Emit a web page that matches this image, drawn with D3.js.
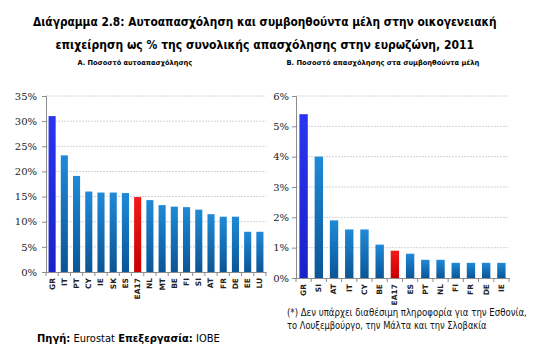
<!DOCTYPE html>
<html><head><meta charset="utf-8">
<script src="https://cdn.jsdelivr.net/npm/d3@7"></script>
<style>body{margin:0;background:#fff}svg{display:block}</style>
</head><body>
<script>
const catsA = ["GR","IT","PT","CY","IE","SK","ES","EA17","NL","MT","BE","FI","SI","AT","FR","DE","EE","LU"];
const valsA = [31,23.2,19.1,16,15.8,15.8,15.7,14.9,14.3,13.3,13,12.9,12.4,11.5,11,11,8,8];
const ticksA = [0,5,10,15,20,25,30,35];
const catsB = ["GR","SI","AT","IT","CY","BE","EA17","ES","PT","NL","FI","FR","DE","IE"];
const valsB = [5.4,4.0,1.9,1.6,1.6,1.1,0.9,0.8,0.6,0.6,0.5,0.5,0.5,0.5];
const ticksB = [0,1,2,3,4,5,6];
const title1 = "Διάγραμμα 2.8: Αυτοαπασχόληση και συμβοηθούντα μέλη στην οικογενειακή";
const title2 = "επιχείρηση ως % της συνολικής  απασχόλησης στην ευρωζώνη, 2011";
const subA = "A. Ποσοστό αυτοαπασχόλησης";
const subB = "B. Ποσοστό απασχόλησης στα συμβοηθούντα μέλη";
const note1 = "(*) Δεν υπάρχει διαθέσιμη πληροφορία για την Εσθονία,";
const note2 = "το Λουξεμβούργο, την Μάλτα και την Σλοβακία";

const W=541,H=361;
const svg=d3.select("body").append("svg").attr("width",W).attr("height",H);
const defs=svg.append("defs");
function grad(id,top,bot){
  const g=defs.append("linearGradient").attr("id",id).attr("x1",0).attr("y1",0).attr("x2",0).attr("y2",1);
  g.append("stop").attr("offset","0%").attr("stop-color",top);
  g.append("stop").attr("offset","100%").attr("stop-color",bot);
}
grad("gBlue","#1f8ad8","#0b5596");
grad("gGR","#2b35f0","#1a22c8");
grad("gRed","#f21a1a","#c80000");

const font="DejaVu Sans";
// place text at (x,y) with left edge x (anchor start), horizontally squeezed to width w
function fitText(x,y,w,size,weight,build,anchor){
  const g=svg.append("g");
  const t=g.append("text").attr("x",0).attr("y",0).attr("font-family",font)
    .attr("font-size",size).attr("font-weight",weight).attr("fill","#000");
  build(t);
  const len=t.node().getComputedTextLength();
  const s=w/len;
  const left = anchor==="middle" ? x-w/2 : x;
  g.attr("transform",`translate(${left},${y}) scale(${s},1)`);
  return t;
}
fitText(265,26,464,12.5,"bold",t=>t.text(title1),"middle");
fitText(265,49,419,12.5,"bold",t=>t.text(title2),"middle");
fitText(135,65,115,7,"bold",t=>t.text(subA),"middle");
fitText(383,65,193,7,"bold",t=>t.text(subB),"middle");

function chart(cats,vals,ticks,x0,x1,y0,y1,max,pad,labelX,labelY){
  const g=svg.append("g");
  const x=d3.scaleBand().domain(cats).range([x0,x1]).paddingInner(pad).paddingOuter(pad/2);
  const y=d3.scaleLinear().domain([0,max]).range([y0,y1]);
  g.selectAll(".grid").data(ticks.filter(t=>t>0)).join("line")
    .attr("x1",x0).attr("x2",x1).attr("y1",d=>y(d)).attr("y2",d=>y(d))
    .attr("stroke","#d4d4d4").attr("stroke-width",1).attr("stroke-dasharray","2,1");
  g.selectAll("rect").data(cats).join("rect")
    .attr("x",d=>x(d)).attr("width",x.bandwidth())
    .attr("y",(d,i)=>y(vals[i])).attr("height",(d,i)=>y(0)-y(vals[i]))
    .attr("fill",d=>d==="GR"?"url(#gGR)":d==="EA17"?"url(#gRed)":"url(#gBlue)");
  const ya=g.append("g").attr("transform",`translate(${x0},0)`)
    .call(d3.axisLeft(y).tickValues(ticks).tickSize(4).tickFormat(d=>d+"%"));
  ya.select(".domain").attr("stroke","#8c8c8c");
  ya.selectAll(".tick line").attr("stroke","#8c8c8c");
  ya.selectAll("text").attr("font-family","DejaVu Serif").attr("font-size",10).attr("fill","#222").attr("x",-labelX);
  const xa=g.append("g").attr("transform",`translate(0,${y0})`)
    .call(d3.axisBottom(x).tickSize(0).tickSizeOuter(0));
  xa.select(".domain").attr("stroke","#8c8c8c");
  xa.selectAll("text").attr("font-family",font).attr("font-weight","bold").attr("font-size",7.5).attr("fill","#222")
    .attr("transform","rotate(-90)").attr("text-anchor","end").attr("x",-labelY).attr("y",0).attr("dy","0.32em");
  g.selectAll(".sep").data(d3.range(cats.length+1)).join("line")
    .attr("x1",i=>x0+i*(x1-x0)/cats.length).attr("x2",i=>x0+i*(x1-x0)/cats.length)
    .attr("y1",y0).attr("y2",y0+4).attr("stroke","#8c8c8c");
}
chart(catsA,valsA,ticksA,46,266,272,96,35,0.42,9,6);
chart(catsB,valsB,ticksB,296,509,278,96,6,0.45,7,6);

fitText(287,316,240,10,"normal",t=>t.attr("fill","#111").text(note1),"start");
fitText(287,329,200,10,"normal",t=>t.attr("fill","#111").text(note2),"start");
fitText(37,342,183,10.5,"normal",t=>{
  t.append("tspan").attr("font-weight","bold").text("Πηγή:");
  t.append("tspan").text(" Eurostat ");
  t.append("tspan").attr("font-weight","bold").text("Επεξεργασία:");
  t.append("tspan").text(" ΙΟΒΕ");
},"start");
</script>
</body></html>
